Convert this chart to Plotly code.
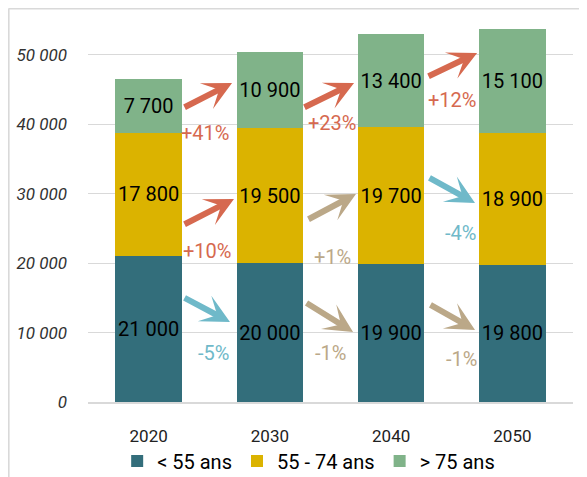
import plotly.graph_objects as go

years = ["2020", "2030", "2040", "2050"]
under55 = [21000, 20000, 19900, 19800]
age55_74 = [17800, 19500, 19700, 18900]
over75 = [7700, 10900, 13400, 15100]
series_names = ["< 55 ans", "55 - 74 ans", "> 75 ans"]

# percentage changes between consecutive years
pct_over75 = ["+41%", "+23%", "+12%"]
pct_55_74 = ["+10%", "+1%", "-4%"]
pct_under55 = ["-5%", "-1%", "-1%"]

C_TEAL = "#336E7B"
C_GOLD = "#DBB300"
C_GREEN = "#80B389"
RED = "#D6694F"
BLUE = "#6FB9C9"
TAN = "#BBA888"

def fmt(v):
    return f"{v:,}".replace(",", " ")

fig = go.Figure()
for name, vals, col in [(series_names[0], under55, C_TEAL),
                        (series_names[1], age55_74, C_GOLD),
                        (series_names[2], over75, C_GREEN)]:
    fig.add_trace(go.Bar(
        x=years, y=vals, name=name, marker=dict(color=col, line=dict(width=0)),
        text=[fmt(v) for v in vals], textposition="inside", insidetextanchor="middle",
        textangle=0,
        textfont=dict(family="Roboto", size=20, color="black"),
        constraintext="none", hoverinfo="skip"))

def col_for(p):
    if p in ("+1%", "-1%"):
        return TAN
    if p.startswith("+"):
        return RED
    return BLUE

# arrow geometry: (tail x, tail y, tip x, tip y, label x, label y)
geo_over75 = [(0.284, 42360, 0.688, 45960, 0.467, 38760),
              (1.273, 42360, 1.694, 45960, 1.514, 40200),
              (2.296, 46830, 2.709, 50290, 2.504, 43520)]
geo_55_74 = [(0.284, 25500, 0.704, 29250, 0.482, 21760),
             (1.306, 26220, 1.710, 29970, 1.514, 20890),
             (2.304, 32420, 2.692, 28670, 2.568, 24350)]
geo_under55 = [(0.284, 15130, 0.671, 11530, 0.539, 7060),
               (1.290, 14410, 1.686, 10090, 1.496, 7060),
               (2.312, 14120, 2.692, 10370, 2.577, 6200)]

for pcts, geos in [(pct_over75, geo_over75), (pct_55_74, geo_55_74), (pct_under55, geo_under55)]:
    for p, (tx, ty, hx, hy, lx, ly) in zip(pcts, geos):
        c = col_for(p)
        fig.add_annotation(x=hx, y=hy, ax=tx, ay=ty, xref="x", yref="y", axref="x", ayref="y",
                           text="", showarrow=True, arrowhead=3, arrowsize=0.8, arrowwidth=6,
                           arrowcolor=c, standoff=0, startstandoff=0)
        fig.add_annotation(x=lx, y=ly, xref="x", yref="y", text=p, showarrow=False,
                           font=dict(family="Roboto", size=20, color=c))

# outer frame (left and top borders)
fig.add_shape(type="line", xref="paper", yref="paper", x0=-0.1637, x1=-0.1637, y0=-0.3, y1=1.0116,
              line=dict(color="#D9D9D9", width=2))
fig.add_shape(type="line", xref="paper", yref="paper", x0=-0.1637, x1=1.1, y0=1.0116, y1=1.0116,
              line=dict(color="#D9D9D9", width=2))

fig.update_layout(
    width=579, height=469,
    margin=dict(l=80, r=14, t=5, b=75, autoexpand=False),
    barmode="stack", bargap=0.45,
    plot_bgcolor="white", paper_bgcolor="white",
    font=dict(family="Roboto", color="#222"),
    showlegend=True,
    legend=dict(orientation="h", x=0.455, xanchor="center", y=0.034, yanchor="middle",
                yref="container", bgcolor="rgba(0,0,0,0)",
                font=dict(family="Roboto", size=20, color="black"), traceorder="normal",
                itemwidth=30),
    xaxis=dict(showline=True, linecolor="#D9D9D9", linewidth=2, tickfont=dict(size=17, color="#222"),
               ticklabelstandoff=18, automargin=False),
    yaxis=dict(range=[0, 56050], tickvals=[0, 10000, 20000, 30000, 40000, 50000],
               ticktext=["0", "10 000", "20 000", "30 000", "40 000", "50 000"],
               showgrid=True, gridcolor="#D9D9D9", gridwidth=1, zeroline=False, automargin=False,
               tickfont=dict(size=17, color="#333", style="italic"), ticklabelstandoff=20),
)

fig.write_html("out.html")
